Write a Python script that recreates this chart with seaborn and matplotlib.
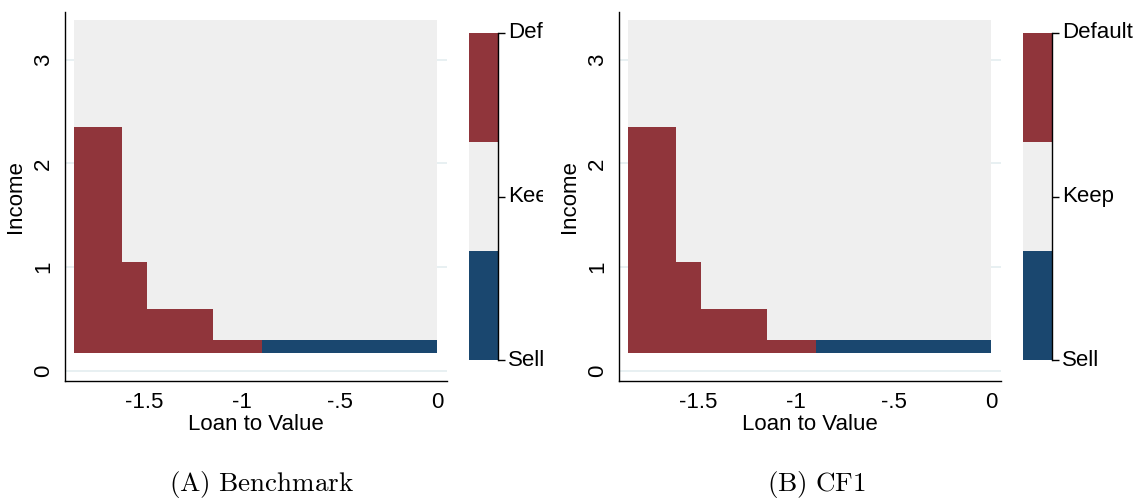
import numpy as np
import pandas as pd
import seaborn as sns
import matplotlib
matplotlib.use("Agg")
from matplotlib import pyplot as plt
from matplotlib.colors import ListedColormap
from matplotlib.transforms import Bbox, TransformedBbox

# policy regions (0 = Sell, 1 = Keep, 2 = Default)
ltv_edges = [-1.86, -1.614, -1.485, -1.147, -0.90, 0.0]
income_edges = [0.17, 0.30, 0.595, 1.05, 2.35, 3.38]
policy_benchmark = [
    [2, 2, 2, 2, 0],
    [2, 2, 2, 1, 1],
    [2, 2, 1, 1, 1],
    [2, 1, 1, 1, 1],
    [1, 1, 1, 1, 1],
]
policy_cf1 = [
    [2, 2, 2, 2, 0],
    [2, 2, 2, 1, 1],
    [2, 2, 1, 1, 1],
    [2, 1, 1, 1, 1],
    [1, 1, 1, 1, 1],
]
choice_labels = ["Sell", "Keep", "Default"]
x_ticks = [-1.5, -1, -0.5, 0]
x_ticklabels = ["-1.5", "-1", "-.5", "0"]
y_ticks = [0, 1, 2, 3]
captions = ["(A)\\ Benchmark", "(B)\\ CF1"]

sns.set_style("white")
plt.rcParams["font.family"] = ["Liberation Sans", "DejaVu Sans"]
plt.rcParams["mathtext.fontset"] = "cm"
plt.rcParams["text.color"] = "black"
plt.rcParams["axes.labelcolor"] = "black"
plt.rcParams["xtick.color"] = "black"
plt.rcParams["ytick.color"] = "black"

colors = ["#1a476f", "#efefef", "#90353b"]
cmap = ListedColormap(colors)
grid_color = "#e4edf0"
fs = 16

fig = plt.figure(figsize=(11.37, 5), dpi=100)
W, H = 1137, 500

def px_axes(x0, y0, x1, y1):
    return fig.add_axes([x0 / W, 1 - y1 / H, (x1 - x0) / W, (y1 - y0) / H])

panels = [(0, policy_benchmark, 543), (554, policy_cf1, None)]
for i, (off, policy, clip_x) in enumerate(panels):
    ax = px_axes(65 + off, 12, 447 + off, 381)
    for y in y_ticks:
        ax.axhline(y, color=grid_color, lw=1.2, zorder=0)
    ax.pcolormesh(ltv_edges, income_edges, np.array(policy), cmap=cmap,
                  vmin=-0.5, vmax=2.5, zorder=1)
    ax.set_xlim(-1.907, 0.05)
    ax.set_ylim(-0.1, 3.46)
    ax.set_xticks(x_ticks)
    ax.set_xticklabels(x_ticklabels)
    ax.set_yticks(y_ticks)
    ax.set_yticklabels([str(v) for v in y_ticks], rotation=90, va="center")
    ax.tick_params(axis="both", length=5, width=1, color="black",
                   labelsize=fs, pad=3, direction="out")
    sns.despine(ax=ax)
    for s in ["left", "bottom"]:
        ax.spines[s].set_color("black")
        ax.spines[s].set_linewidth(1)
    ax.set_xlabel("Loan to Value", fontsize=fs, labelpad=1)
    ax.set_ylabel("Income", fontsize=fs, labelpad=5)

    # legend bar
    cax = px_axes(469 + off, 33, 498 + off, 360)
    sns.heatmap(pd.DataFrame([[2], [1], [0]]), cmap=cmap, vmin=-0.5, vmax=2.5,
                cbar=False, ax=cax, xticklabels=False)
    cax.set_yticks([0, 1.5, 3])
    cax.set_yticklabels(choice_labels[::-1], rotation=0, va="center")
    cax.yaxis.tick_right()
    cax.tick_params(axis="y", length=5, width=1, color="black",
                    labelsize=fs, pad=2)
    for s in cax.spines.values():
        s.set_visible(False)
    cax.spines["right"].set_visible(True)
    cax.spines["right"].set_color("black")
    cax.spines["right"].set_linewidth(1)
    if clip_x is not None:
        box = TransformedBbox(Bbox([[0, 0], [clip_x / W, 1]]), fig.transFigure)
        for lab in cax.get_yticklabels():
            lab.set_clip_on(True)
            lab.set_clip_box(box)

    fig.text((262 + off) / W, 1 - 485 / H, "$\\mathrm{" + captions[i] + "}$",
             ha="center", va="center", fontsize=19.5)

fig.savefig("out.png", dpi=100)
